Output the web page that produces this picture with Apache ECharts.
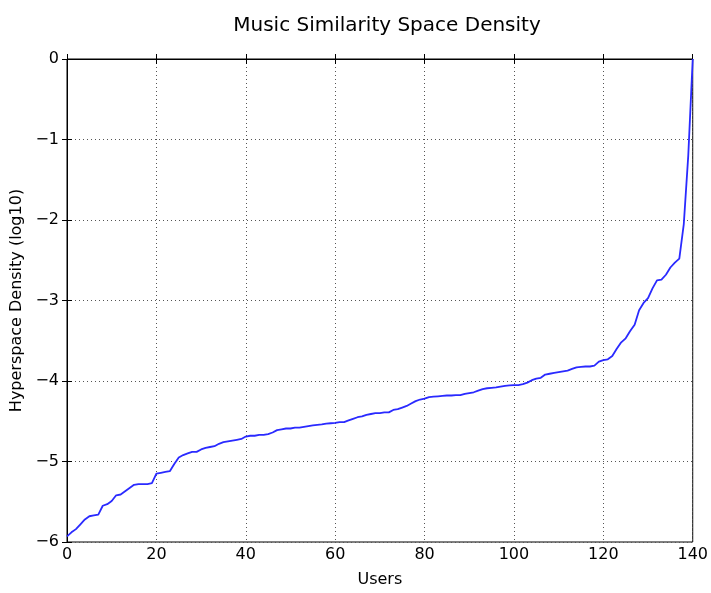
<!DOCTYPE html>
<html>
<head>
<meta charset="utf-8">
<script src="https://cdn.jsdelivr.net/npm/echarts@6/dist/echarts.min.js"></script>
<style>
  html, body { margin: 0; padding: 0; background: #fff; overflow: hidden; }
  #chart { width: 711px; height: 593px; }
</style>
</head>
<body>
<div id="chart"></div>
<script>
// Sorted per-user density in the music similarity space (log10)
const users = [];
for (let i = 0; i <= 140; i++) users.push(i);

const density = [
  -5.93, -5.88, -5.84, -5.78, -5.72, -5.68, -5.67, -5.66, -5.55, -5.53,
  -5.49, -5.42, -5.41, -5.37, -5.33, -5.29, -5.28, -5.28, -5.28, -5.27,
  -5.15, -5.14, -5.13, -5.12, -5.03, -4.95, -4.92, -4.90, -4.88, -4.88,
  -4.85, -4.83, -4.82, -4.81, -4.78, -4.76, -4.75, -4.74, -4.73, -4.72,
  -4.69, -4.68, -4.68, -4.67, -4.67, -4.66, -4.64, -4.61, -4.60, -4.59,
  -4.59, -4.58, -4.58, -4.57, -4.56, -4.55, -4.545, -4.54, -4.53, -4.525,
  -4.52, -4.51, -4.51, -4.49, -4.47, -4.45, -4.44, -4.42, -4.41, -4.40,
  -4.40, -4.39, -4.39, -4.36, -4.35, -4.33, -4.31, -4.28, -4.25, -4.23,
  -4.22, -4.20, -4.195, -4.19, -4.185, -4.18, -4.18, -4.175, -4.175, -4.16,
  -4.15, -4.14, -4.12, -4.10, -4.09, -4.085, -4.08, -4.07, -4.06, -4.055,
  -4.05, -4.05, -4.04, -4.02, -3.99, -3.97, -3.96, -3.92, -3.91, -3.90,
  -3.89, -3.88, -3.87, -3.85, -3.83, -3.825, -3.82, -3.82, -3.81, -3.76,
  -3.74, -3.73, -3.69, -3.60, -3.52, -3.47, -3.38, -3.30, -3.12, -3.03,
  -2.97, -2.85, -2.75, -2.74, -2.68, -2.59, -2.53, -2.48, -2.05, -1.20,
  0.0
];

const xTicks = { min: 0, max: 140, step: 20 };
const yTicks = { min: -6, max: 0, step: 1 };

const font = 'DejaVu Sans';
const minus = v => String(v).replace('-', '\u2212');

const gridLine = { show: true, lineStyle: { color: '#555', type: [1, 3], width: 1 } };
const tickIn = { show: true, inside: true, length: 5, lineStyle: { color: '#000', width: 1 } };

const plot = { left: 67, right: 14, top: 59, bottom: 46 };

const chart = echarts.init(document.getElementById('chart'), null, { renderer: 'canvas' });
const plotCenter = plot.left + (chart.getWidth() - plot.left - plot.right) / 2;

chart.setOption({
  animation: false,
  backgroundColor: '#fff',
  title: {
    text: 'Music Similarity Space Density',
    left: plotCenter,
    textAlign: 'center',
    top: 11,
    textStyle: { fontFamily: font, fontSize: 20, fontWeight: 'normal', color: '#000' }
  },
  grid: Object.assign({
    show: true, borderColor: '#000', borderWidth: 1, backgroundColor: 'transparent'
  }, plot),
  xAxis: [
    {
      type: 'value', min: xTicks.min, max: xTicks.max, interval: xTicks.step,
      name: 'Users', nameLocation: 'middle', nameGap: 30,
      nameTextStyle: { fontFamily: font, fontSize: 16, color: '#000' },
      axisLine: { show: true, lineStyle: { color: '#000', width: 1 } },
      axisTick: tickIn,
      axisLabel: { fontFamily: font, fontSize: 16, color: '#000', margin: 5 },
      splitLine: gridLine
    },
    {
      type: 'value', position: 'top', min: xTicks.min, max: xTicks.max, interval: xTicks.step,
      axisLine: { show: true, lineStyle: { color: '#000', width: 1 } },
      axisTick: tickIn, axisLabel: { show: false }, splitLine: { show: false }
    }
  ],
  yAxis: [
    {
      type: 'value', min: yTicks.min, max: yTicks.max, interval: yTicks.step,
      name: 'Hyperspace Density (log10)', nameLocation: 'middle', nameGap: 36,
      nameTextStyle: { fontFamily: font, fontSize: 16, color: '#000' },
      axisLine: { show: true, lineStyle: { color: '#000', width: 1 } },
      axisTick: tickIn,
      axisLabel: { fontFamily: font, fontSize: 16, color: '#000', margin: 8, formatter: minus },
      splitLine: gridLine
    },
    {
      type: 'value', position: 'right', min: yTicks.min, max: yTicks.max, interval: yTicks.step,
      axisLine: { show: true, lineStyle: { color: '#000', width: 1 } },
      axisTick: tickIn, axisLabel: { show: false }, splitLine: { show: false }
    }
  ],
  series: [{
    type: 'line',
    xAxisIndex: 0, yAxisIndex: 0,
    data: users.map((u, i) => [u, density[i]]),
    showSymbol: false,
    lineStyle: { color: '#2a2aff', width: 1.8 },
    clip: true
  }]
});
</script>
</body>
</html>
